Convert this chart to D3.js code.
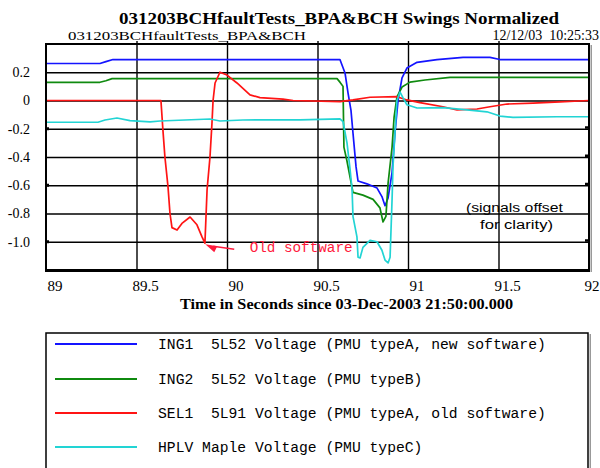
<!DOCTYPE html>
<html>
<head>
<meta charset="utf-8">
<script src="https://cdn.jsdelivr.net/npm/d3@7"></script>
<style>
  html, body { margin: 0; padding: 0; background: #fff; }
  svg { display: block; }
</style>
</head>
<body>
<svg id="chart" width="600" height="468"></svg>
<script>
// ---- chart text ----
const titleText = "031203BCHfaultTests_BPA&BCH Swings Normalized";
const subtitleText = "031203BCHfaultTests_BPA&BCH";
const stampText = "12/12/03  10:25:33";
const xAxisTitle = "Time in Seconds since 03-Dec-2003 21:50:00.000";

// ---- axes ----
const xDomain = [89, 92];
const yDomain = [-1.2, 0.4];
const xTicks = [89, 89.5, 90, 90.5, 91, 91.5, 92];
const xTickLabels = ["89", "89.5", "90", "90.5", "91", "91.5", "92"];
const yTicks = [0.2, 0, -0.2, -0.4, -0.6, -0.8, -1.0];
const yTickLabels = ["0.2", "0", "-0.2", "-0.4", "-0.6", "-0.8", "-1.0"];

// ---- series: [time (s), normalized voltage] ----
const ing1 = [
  [89.000, 0.262], [89.298, 0.262], [89.331, 0.275], [89.370, 0.290],
  [90.624, 0.290], [90.652, 0.195], [90.669, 0.05], [90.685, -0.07],
  [90.696, -0.23], [90.713, -0.47], [90.724, -0.57], [90.773, -0.59],
  [90.829, -0.62], [90.856, -0.68], [90.873, -0.745], [90.890, -0.69],
  [90.912, -0.51], [90.928, -0.23], [90.945, 0.0], [90.967, 0.16],
  [90.994, 0.23], [91.050, 0.27], [91.160, 0.29], [91.304, 0.305],
  [91.453, 0.305], [91.508, 0.29], [92.000, 0.29]
];
const ing2 = [
  [89.000, 0.129], [89.298, 0.129], [89.331, 0.14], [89.365, 0.155],
  [90.608, 0.155], [90.624, 0.13], [90.641, 0.10], [90.646, -0.33],
  [90.663, -0.43], [90.696, -0.65], [90.751, -0.67], [90.807, -0.70],
  [90.845, -0.76], [90.862, -0.86], [90.878, -0.82], [90.890, -0.585],
  [90.912, -0.33], [90.923, -0.12], [90.939, 0.025], [90.967, 0.095],
  [91.011, 0.13], [91.094, 0.145], [91.232, 0.164], [92.000, 0.164]
];
const sel1 = [
  [89.000, 0.0], [89.635, 0.0], [89.646, -0.21], [89.657, -0.40],
  [89.674, -0.61], [89.685, -0.80], [89.696, -0.90], [89.724, -0.917],
  [89.751, -0.87], [89.796, -0.825], [89.834, -0.88], [89.862, -0.965],
  [89.878, -1.01], [89.890, -0.63], [89.906, -0.40], [89.917, -0.16],
  [89.923, 0.0], [89.934, 0.124], [89.961, 0.20], [90.000, 0.18],
  [90.055, 0.124], [90.127, 0.04], [90.182, 0.02], [90.309, 0.01],
  [90.365, 0.0], [90.624, -0.008], [90.696, 0.004], [90.790, 0.023],
  [90.939, 0.027], [90.994, 0.004], [91.066, -0.015], [91.193, -0.044],
  [91.271, -0.067], [91.381, -0.06], [91.453, -0.044], [91.547, -0.025],
  [91.691, -0.018], [91.840, -0.01], [92.000, 0.0]
];
const hplv = [
  [89.000, -0.154], [89.287, -0.154], [89.326, -0.138], [89.392, -0.124],
  [89.464, -0.143], [89.575, -0.152], [89.630, -0.145], [89.906, -0.131],
  [89.961, -0.145], [90.088, -0.138], [90.403, -0.137], [90.624, -0.13],
  [90.641, -0.15], [90.663, -0.30], [90.680, -0.49], [90.691, -0.63],
  [90.696, -0.82], [90.718, -0.966], [90.724, -1.11], [90.735, -1.115],
  [90.751, -1.04], [90.790, -0.99], [90.829, -1.0], [90.856, -1.06],
  [90.873, -1.13], [90.890, -1.15], [90.901, -1.11], [90.912, -0.70],
  [90.917, -0.47], [90.928, -0.23], [90.939, 0.0], [90.956, 0.06],
  [90.972, 0.02], [90.994, -0.03], [91.050, -0.053], [91.193, -0.05],
  [91.326, -0.067], [91.436, -0.08], [91.508, -0.11], [91.580, -0.12],
  [91.823, -0.115], [92.000, -0.115]
];

const seriesData = [ing1, ing2, sel1, hplv];
const seriesLabels = [
  "ING1  5L52 Voltage (PMU typeA, new software)",
  "ING2  5L52 Voltage (PMU typeB)",
  "SEL1  5L91 Voltage (PMU typeA, old software)",
  "HPLV Maple Voltage (PMU typeC)"
];
const seriesColors = ["#1414ff", "#0f8a0f", "#ff1414", "#22d4d4"];

// ---- annotations (data coordinates) ----
const oldSwText = "Old software";
const oldSwArrow = [[90.040, -1.053], [89.880, -1.018]];
const oldSwLabelAt = [90.125, -1.075];
const noteLines = ["(signals offset", "for clarity)"];
const noteAt = [[91.320, -0.789], [91.398, -0.912]];

// ---- layout ----
const W = 600;
const svg = d3.select("#chart");
const plot = { left: 46, right: 589, top: 44, bottom: 270 };
const x = d3.scaleLinear().domain(xDomain).range([plot.left, plot.right]);
const y = d3.scaleLinear().domain(yDomain).range([plot.bottom, plot.top]);
const serif = "'Liberation Serif', 'Times New Roman', serif";
const mono = "'Liberation Mono', 'Courier New', monospace";

// titles
svg.append("text")
  .attr("x", 119).attr("y", 24)
  .attr("textLength", 440).attr("lengthAdjust", "spacingAndGlyphs")
  .style("font-family", serif).style("font-weight", "bold").style("font-size", "16px")
  .text(titleText);
svg.append("text")
  .attr("x", 68).attr("y", 40)
  .attr("textLength", 238).attr("lengthAdjust", "spacingAndGlyphs")
  .style("font-family", serif).style("font-size", "13.5px")
  .text(subtitleText);
svg.append("text")
  .attr("x", W - 1).attr("y", 40)
  .attr("text-anchor", "end")
  .style("font-family", serif).style("font-size", "14px")
  .style("white-space", "pre")
  .text(stampText);

// grid lines
const gridX = xTicks.filter(d => d > xDomain[0] && d < xDomain[1]);
svg.append("g")
  .attr("transform", `translate(0,${plot.bottom})`)
  .call(d3.axisBottom(x).tickValues(gridX).tickSize(-(plot.bottom - plot.top) - 3).tickFormat(""))
  .call(g => g.select(".domain").remove())
  .call(g => g.selectAll("line").attr("stroke", "#000").attr("stroke-width", 1.4));
svg.append("g")
  .attr("transform", `translate(${plot.left},0)`)
  .call(d3.axisLeft(y).tickValues(yTicks).tickSize(-(plot.right - plot.left)).tickFormat(""))
  .call(g => g.select(".domain").remove())
  .call(g => g.selectAll("line").attr("stroke", "#000").attr("stroke-width", 1.4));

// small tick nubs on the left and right borders
const nubLeft = [-0.2, -0.6, -1.0];
const nubRight = [-0.2, -0.4, -0.6, -1.0];
svg.append("g").selectAll("rect").data(nubLeft).join("rect")
  .attr("x", plot.left).attr("y", d => y(d) - 1.5).attr("width", 3).attr("height", 3).attr("fill", "#000");
svg.append("g").selectAll("rect").data(nubRight).join("rect")
  .attr("x", plot.right - 4).attr("y", d => y(d) - 2.5).attr("width", 4).attr("height", 2.5).attr("fill", "#000");

// series lines
const line = d3.line().x(d => x(d[0])).y(d => y(d[1]));
svg.append("g").selectAll("path").data(seriesData).join("path")
  .attr("d", line)
  .attr("fill", "none")
  .attr("stroke", (d, i) => seriesColors[i])
  .attr("stroke-width", 1.7)
  .attr("stroke-linejoin", "round");

// plot frame
svg.append("rect")
  .attr("x", plot.right + 1.5).attr("y", plot.top + 1).attr("width", 1.5).attr("height", plot.bottom - plot.top + 1)
  .attr("fill", "#999");
svg.append("rect")
  .attr("x", plot.left).attr("y", plot.top)
  .attr("width", plot.right - plot.left).attr("height", plot.bottom - plot.top)
  .attr("fill", "none").attr("stroke", "#000").attr("stroke-width", 2);
svg.append("line")
  .attr("x1", plot.left - 1).attr("x2", plot.right + 1)
  .attr("y1", plot.bottom + 0.5).attr("y2", plot.bottom + 0.5)
  .attr("stroke", "#000").attr("stroke-width", 3);

// y axis labels
svg.append("g")
  .attr("transform", `translate(${plot.left},0)`)
  .call(d3.axisLeft(y).tickValues(yTicks).tickFormat((d, i) => yTickLabels[i]).tickSize(0).tickPadding(16))
  .call(g => g.select(".domain").remove())
  .call(g => g.selectAll("text")
    .style("font-family", serif).style("font-size", "14px").attr("fill", "#000"));

// x axis labels (the last one is pulled in so it stays on the page)
svg.append("g")
  .attr("transform", `translate(0,${plot.bottom})`)
  .call(d3.axisBottom(x).tickValues(xTicks).tickFormat((d, i) => xTickLabels[i]).tickSize(0).tickPadding(10))
  .call(g => g.select(".domain").remove())
  .call(g => g.selectAll("text")
    .attr("dx", 8.5)
    .style("font-family", serif).style("font-size", "15px").attr("fill", "#000"))
  .call(g => g.selectAll(".tick").filter(d => d === xDomain[1]).select("text")
    .attr("text-anchor", "end").attr("dx", W - 1 - x(xDomain[1])));

svg.append("text")
  .attr("x", 180).attr("y", 309)
  .attr("textLength", 333).attr("lengthAdjust", "spacingAndGlyphs")
  .style("font-family", serif).style("font-weight", "bold").style("font-size", "14px")
  .text(xAxisTitle);

// "Old software" annotation
svg.append("line")
  .attr("x1", x(oldSwArrow[0][0])).attr("y1", y(oldSwArrow[0][1]))
  .attr("x2", x(oldSwArrow[1][0]) + 8).attr("y2", y(oldSwArrow[1][1]) + 2)
  .attr("stroke", "#ff1a3c").attr("stroke-width", 1.5);
{
  const tx = x(oldSwArrow[1][0]), ty = y(oldSwArrow[1][1]);
  svg.append("path")
    .attr("d", `M${tx},${ty} L${tx + 12},${ty + 2} L${tx + 9},${ty + 8} Z`)
    .attr("fill", "#ff1a3c");
}
svg.append("text")
  .attr("x", x(oldSwLabelAt[0])).attr("y", y(oldSwLabelAt[1]))
  .attr("textLength", 103).attr("lengthAdjust", "spacingAndGlyphs")
  .style("font-family", mono).style("font-size", "14px")
  .attr("fill", "#ff1a3c")
  .text(oldSwText);

// offset note
const noteWidths = [97, 73];
svg.append("g").selectAll("text").data(noteLines).join("text")
  .attr("x", (d, i) => x(noteAt[i][0]))
  .attr("y", (d, i) => y(noteAt[i][1]))
  .attr("textLength", (d, i) => noteWidths[i]).attr("lengthAdjust", "spacingAndGlyphs")
  .style("font-family", "'Liberation Sans', Arial, sans-serif").style("font-size", "12.5px")
  .attr("fill", "#000")
  .text(d => d);

// legend
const legend = { left: 46, right: 588, top: 333, rowY: [344, 379, 413, 447] };
svg.append("rect")
  .attr("x", legend.right + 1.5).attr("y", legend.top + 1).attr("width", 1.5).attr("height", 200)
  .attr("fill", "#999");
svg.append("rect")
  .attr("x", legend.left).attr("y", legend.top)
  .attr("width", legend.right - legend.left).attr("height", 200)
  .attr("fill", "none").attr("stroke", "#000").attr("stroke-width", 1.5);
const rows = svg.append("g").selectAll("g").data(seriesLabels).join("g")
  .attr("transform", (d, i) => `translate(0,${legend.rowY[i]})`);
rows.append("line")
  .attr("x1", 55).attr("x2", 137)
  .attr("stroke", (d, i) => seriesColors[i]).attr("stroke-width", 2);
rows.append("text")
  .attr("x", 158).attr("y", 4.5)
  .style("font-family", mono).style("font-size", "14.7px")
  .style("white-space", "pre")
  .attr("fill", "#000")
  .text(d => d);
</script>
</body>
</html>
